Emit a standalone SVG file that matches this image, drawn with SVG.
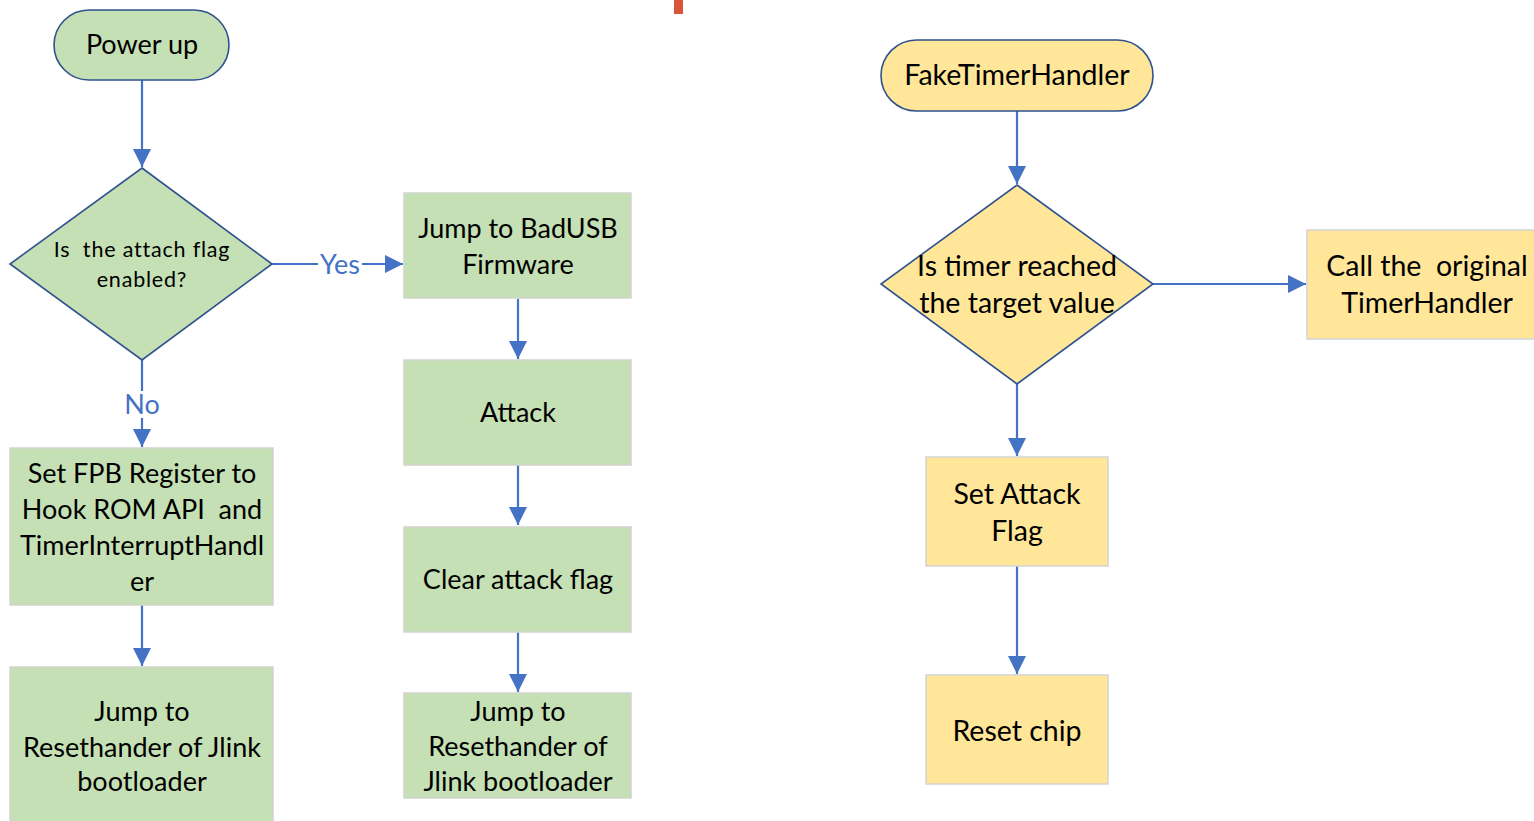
<svg xmlns="http://www.w3.org/2000/svg" width="1534" height="821" viewBox="0 0 1534 821">
  <style>
    .bg { fill: #ffffff; }
    .term-g { fill: #C5E0B4; stroke: #2F528F; stroke-width: 1.6; }
    .term-y { fill: #FFE699; stroke: #2F528F; stroke-width: 1.6; }
    .box-g { fill: #C5E0B4; stroke: #CFD5CC; stroke-width: 1.5; }
    .box-y { fill: #FFE699; stroke: #D3D3D3; stroke-width: 1.5; }
    .lbl { font-family: Lato, "Open Sans", "Liberation Sans", sans-serif; font-size: 27px; fill: #000000; text-anchor: middle; white-space: pre; }
    .big { font-size: 28.5px; }
    .small { font-size: 21.5px; letter-spacing: 0.8px; }
    .edge-lbl { font-family: Lato, "Open Sans", "Liberation Sans", sans-serif; font-size: 27px; fill: #4472C4; text-anchor: middle; }
    .wire { stroke: #4472C4; stroke-width: 2.2; fill: none; marker-end: url(#arrow); }
  </style>
  <defs>
    <marker id="arrow" markerUnits="userSpaceOnUse" markerWidth="18" markerHeight="18" viewBox="0 0 16 16" refX="16" refY="8" orient="auto">
      <path d="M0,0 L16,8 L0,16 Z" fill="#4472C4"/>
    </marker>
  </defs>

  <rect class="bg" x="0" y="0" width="1534" height="821"/>

  <!-- small red tab at the top edge -->
  <rect x="674" y="0" width="9" height="14" fill="#D9553A"/>

  <!-- connectors -->
  <g id="connectors">
    <line class="wire" x1="142" y1="80" x2="142" y2="167"/>
    <line class="wire" x1="272" y1="264" x2="403" y2="264"/>
    <line class="wire" x1="142" y1="360" x2="142" y2="447"/>
    <line class="wire" x1="142" y1="605" x2="142" y2="666"/>
    <line class="wire" x1="518" y1="299" x2="518" y2="359"/>
    <line class="wire" x1="518" y1="465" x2="518" y2="525"/>
    <line class="wire" x1="518" y1="632" x2="518" y2="692"/>
    <line class="wire" x1="1017" y1="111" x2="1017" y2="184"/>
    <line class="wire" x1="1153" y1="284" x2="1306" y2="284"/>
    <line class="wire" x1="1017" y1="384" x2="1017" y2="456"/>
    <line class="wire" x1="1017" y1="566" x2="1017" y2="674"/>
    <!-- edge labels sit on a white patch over the wire -->
    <rect x="318" y="251" width="44" height="26" fill="#ffffff"/>
    <text class="edge-lbl" x="340" y="274">Yes</text>
    <rect x="124" y="391" width="36" height="27" fill="#ffffff"/>
    <text class="edge-lbl" x="142" y="414">No</text>
  </g>

  <!-- left flow -->
  <g id="power-up">
    <rect class="term-g" x="54" y="10" width="175" height="70" rx="35" ry="35"/>
    <text class="lbl" x="142" y="54">Power up</text>
  </g>

  <g id="attach-flag-check">
    <polygon class="term-g" points="142,168 272,264 142,360 10,264"/>
    <text class="lbl small" x="142" y="257">Is  the attach flag</text>
    <text class="lbl small" x="142" y="287">enabled?</text>
  </g>

  <g id="set-fpb">
    <rect class="box-g" x="10" y="448" width="263" height="157"/>
    <text class="lbl" x="142" y="483">Set FPB Register to</text>
    <text class="lbl" x="142" y="519">Hook ROM API  and</text>
    <text class="lbl" x="142" y="555">TimerInterruptHandl</text>
    <text class="lbl" x="142" y="591">er</text>
  </g>

  <g id="jump-jlink-left">
    <rect class="box-g" x="10" y="667" width="263" height="160"/>
    <text class="lbl" x="142" y="721">Jump to</text>
    <text class="lbl" x="142" y="757">Resethander of Jlink</text>
    <text class="lbl" x="142" y="791">bootloader</text>
  </g>

  <!-- middle flow -->
  <g id="jump-badusb">
    <rect class="box-g" x="404" y="193" width="227" height="105"/>
    <text class="lbl" x="518" y="238">Jump to BadUSB</text>
    <text class="lbl" x="518" y="274">Firmware</text>
  </g>

  <g id="attack">
    <rect class="box-g" x="404" y="360" width="227" height="105"/>
    <text class="lbl" x="518" y="422">Attack</text>
  </g>

  <g id="clear-flag">
    <rect class="box-g" x="404" y="527" width="227" height="105"/>
    <text class="lbl" x="518" y="589">Clear attack flag</text>
  </g>

  <g id="jump-jlink-right">
    <rect class="box-g" x="404" y="693" width="227" height="105"/>
    <text class="lbl" x="518" y="721">Jump to</text>
    <text class="lbl" x="518" y="756">Resethander of</text>
    <text class="lbl" x="518" y="791">Jlink bootloader</text>
  </g>

  <!-- timer handler flow -->
  <g id="fake-timer-handler">
    <rect class="term-y" x="881" y="40" width="272" height="71" rx="35.5" ry="35.5"/>
    <text class="lbl big" x="1017" y="85">FakeTimerHandler</text>
  </g>

  <g id="timer-check">
    <polygon class="term-y" points="1017,185 1153,284 1017,384 881,284"/>
    <text class="lbl big" x="1017" y="276">Is timer reached</text>
    <text class="lbl big" x="1017" y="313">the target value</text>
  </g>

  <g id="call-original">
    <rect class="box-y" x="1307" y="230" width="232" height="109"/>
    <text class="lbl big" x="1427" y="276">Call the  original</text>
    <text class="lbl big" x="1427" y="313">TimerHandler</text>
  </g>

  <g id="set-attack-flag">
    <rect class="box-y" x="926" y="457" width="182" height="109"/>
    <text class="lbl big" x="1017" y="504">Set Attack</text>
    <text class="lbl big" x="1017" y="541">Flag</text>
  </g>

  <g id="reset-chip">
    <rect class="box-y" x="926" y="675" width="182" height="109"/>
    <text class="lbl big" x="1017" y="741">Reset chip</text>
  </g>
</svg>
